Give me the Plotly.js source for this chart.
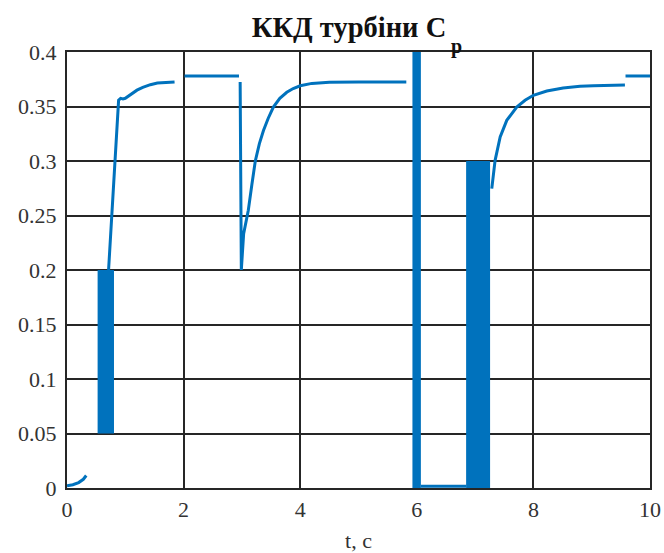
<!DOCTYPE html>
<html>
<head>
<meta charset="utf-8">
<script src="https://cdn.plot.ly/plotly-3.0.1.min.js"></script>
<style>html,body{margin:0;padding:0;background:#fff;}#chart{width:664px;height:553px;}</style>
</head>
<body>
<div id="chart"></div>
<script>
// Curve of turbine efficiency Cp(t); null separates drawn pieces
const tCurve = [0, 0.1, 0.2, 0.28, 0.33, null,
  0.713, 0.885, 0.92, 0.96, 1.0, 1.1, 1.2, 1.3, 1.43, 1.55, 1.657, 1.845, null,
  2.017, 2.95, null,
  2.97, 2.99, 3.03, 3.11, 3.17, 3.23, 3.3, 3.37, 3.45, 3.54, 3.65, 3.77, 3.88, 4.0, 4.2, 4.5, 5.0, 5.82, null,
  6.07, 6.85, null,
  7.286, 7.343, 7.43, 7.543, 7.714, 7.857, 8.0, 8.23, 8.51, 8.8, 9.03, 9.57, null,
  9.58, 10];
const cpCurve = [0.002, 0.003, 0.005, 0.008, 0.0115, null,
  0.2, 0.3557, 0.3575, 0.357, 0.3575, 0.3615, 0.365, 0.3675, 0.370, 0.3715, 0.372, 0.3725, null,
  0.378, 0.378, null,
  0.3725, 0.2, 0.2334, 0.2548, 0.278, 0.30, 0.316, 0.328, 0.339, 0.3495, 0.3575, 0.363, 0.3665, 0.369, 0.3712, 0.3722, 0.3725, 0.3725, null,
  0.0015, 0.0015, null,
  0.2747, 0.3006, 0.322, 0.3373, 0.3495, 0.3557, 0.3603, 0.3642, 0.367, 0.3685, 0.369, 0.3697, null,
  0.378, 0.378];

// Fast-oscillation bands (drawn solid in the source)
const bandStart = [0.525, 5.925, 6.846];
const bandEnd   = [0.806, 6.07, 7.257];
const bandLow   = [0.05, 0.0, 0.0];
const bandHigh  = [0.2, 0.4, 0.3];

const xTicks = [0, 2, 4, 6, 8, 10];
const yTicks = [0, 0.05, 0.1, 0.15, 0.2, 0.25, 0.3, 0.35, 0.4];

const titleMain = 'ККД турбіни C';
const titleSub = 'p';
const xTitle = 't, c';

const blue = '#0072BD';
const gridC = '#262626';
const serif = 'Liberation Serif';

const traces = [
  {
    type: 'bar',
    x: bandStart.map((s, i) => (s + bandEnd[i]) / 2),
    width: bandStart.map((s, i) => bandEnd[i] - s),
    base: bandLow,
    y: bandHigh.map((h, i) => h - bandLow[i]),
    marker: {color: blue, line: {width: 0}},
    hoverinfo: 'skip'
  },
  {
    type: 'scatter', mode: 'lines',
    x: tCurve, y: cpCurve,
    connectgaps: false,
    line: {color: blue, width: 3}
  }
];

const layout = {
  width: 664, height: 553,
  margin: {l: 67, r: 14, t: 52, b: 65},
  paper_bgcolor: '#fff', plot_bgcolor: '#fff',
  showlegend: false,
  barmode: 'overlay',
  font: {family: serif, color: '#333'},
  title: {
    text: titleMain,
    font: {family: serif, size: 28.5, color: '#111', weight: 'bold'},
    x: 349 / 664, xanchor: 'center', xref: 'container',
    y: 1 - 37 / 553, yanchor: 'bottom', yref: 'container'
  },
  annotations: [{
    text: titleSub, xref: 'paper', yref: 'paper',
    x: (456 - 67) / 583, y: 1 + 5 / 436, xanchor: 'center', yanchor: 'middle',
    showarrow: false,
    font: {family: serif, size: 20, color: '#111', weight: 'bold'}
  }],
  xaxis: {
    range: [0, 10], tickvals: xTicks, ticktext: xTicks.map(String),
    showgrid: true, gridcolor: gridC, gridwidth: 2,
    showline: true, mirror: true, linecolor: gridC, linewidth: 2,
    zeroline: false, ticks: '', ticklabelstandoff: 1,
    tickfont: {family: serif, size: 22, color: '#333'},
    title: {text: xTitle, font: {family: serif, size: 22, color: '#333'}, standoff: 22}
  },
  yaxis: {
    range: [0, 0.4], tickvals: yTicks, ticktext: yTicks.map(String),
    showgrid: true, gridcolor: gridC, gridwidth: 2,
    showline: true, mirror: true, linecolor: gridC, linewidth: 2,
    zeroline: false, ticks: '', ticklabelstandoff: 4,
    tickfont: {family: serif, size: 22, color: '#333'}
  }
};

Plotly.newPlot('chart', traces, layout, {staticPlot: true, displayModeBar: false});
</script>
</body>
</html>
